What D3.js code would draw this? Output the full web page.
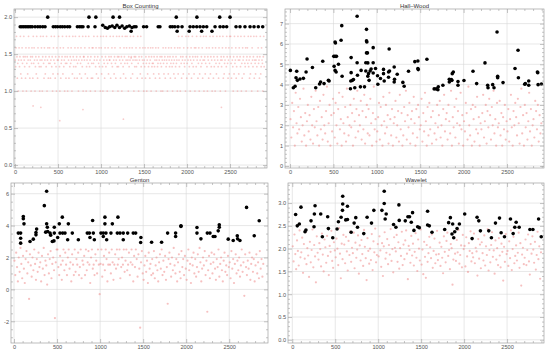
<!DOCTYPE html>
<html><head><meta charset="utf-8">
<script src="https://cdn.jsdelivr.net/npm/d3@7"></script>
<style>html,body{margin:0;padding:0;background:#fff;} svg{display:block;}</style>
</head><body><svg id="c" width="550" height="351"></svg>
<script>
// ---------------- DATA ----------------
const xTickValues = [0, 500, 1000, 1500, 2000, 2500];
const titles = ["Box Counting", "Hall\u2013Wood", "Genton", "Wavelet"];

// Box Counting: outliers (black)
const bcBlackX = [60,80,100,120,140,160,180,200,233,264,291,322,349,445,470,495,525,550,578,610,635,725,750,770,790,850,930,
  1020,1050,1075,1100,1130,1160,1185,1215,1245,1275,1300,1330,1360,1385,1407,1495,1530,1665,1685,1805,1830,1858,1895,1942,2035,2073,2113,2151,2190,2229,2326,2384,2422,2461,2570,2616,2674,2733,2779,2829,2880,
  380,860,940,1140,1215,1875,2115,2380,2500,
  1350,1885,2025,2170,2290];
const bcBlackY = [1.87,1.87,1.87,1.87,1.87,1.87,1.87,1.87,1.87,1.87,1.87,1.87,1.87,1.87,1.87,1.87,1.87,1.87,1.87,1.87,1.87,1.87,1.87,1.87,1.87,1.87,1.87,
  1.89,1.86,1.85,1.87,1.88,1.86,1.89,1.86,1.88,1.85,1.87,1.88,1.86,1.87,1.87,1.87,1.87,1.87,1.87,1.87,1.87,1.87,1.87,1.87,1.87,1.87,1.87,1.87,1.87,1.87,1.87,1.87,1.87,1.87,1.87,1.87,1.87,1.87,1.87,1.87,1.87,
  2.0,2.0,2.0,2.0,2.0,2.0,2.0,2.0,2.0,
  1.81,1.81,1.81,1.81,1.81];
// Box Counting: regular values (pink) take discrete levels; one level index per sampled point (every 5th index)
const bcLevels = [1.741, 1.585, 1.464, 1.42, 1.375, 1.33, 1.232, 1.174, 1.0];
const bcPinkLevel = [
3,5,1,0,2,7,4,8,3,1,5,2,0,6,3,7,1,4,8,2,
0,3,5,2,7,1,8,4,2,6,3,0,1,5,7,3,2,8,4,1,
2,7,0,4,1,3,8,5,2,6,0,3,7,1,4,2,5,8,3,0,
5,1,3,8,2,0,4,7,1,3,6,2,5,0,8,3,1,7,4,2,
1,4,7,3,0,5,2,8,6,1,3,0,4,7,2,5,8,1,3,6,
3,0,2,5,8,1,7,4,3,2,0,6,1,5,3,8,2,4,7,0,
4,2,8,1,3,7,0,5,2,4,1,3,8,6,0,2,5,3,7,1,
0,5,3,2,7,4,1,8,3,0,6,2,4,1,7,3,5,0,8,2,
2,3,1,6,0,8,5,3,7,2,4,0,1,5,3,8,2,7,4,1,
7,1,4,0,3,2,8,5,1,6,3,0,2,7,4,1,5,3,8,0,
1,6,2,5,8,0,3,4,7,1,2,5,0,3,8,4,1,6,2,3,
3,0,7,2,4,1,5,8,0,3,6,2,1,4,7,3,0,5,2,8,
5,2,0,3,1,7,4,2,8,0,3,5,6,1,2,4,0,7,3,1,
0,4,3,8,2,5,1,3,0,7,2,4,1,6,3,0,8,2,5,3,
2,1,5,3,7,0,4,8,2,3,1,6,0,5,2,7,3,1,4,8,
3,5,1,7,2,4,8,3,6,1,5,2,4,7,3,1,8,2,5,4,
1,4,6,2,5,3,7,1,8,3,2,5,4,1,6,3,7,2,4,8,
5,2,3,8,1,4,6,3,2,7,1,5,3,4,8,2,6,1,3,5,
2,7,4,1,3,5,8,2,4,6,3,1,7,5,2,4,3,8,1,6,
0,3,5,1,8,2,4,7,0,3,2,6,1,4,5,3,8,0,2,7,
4,1,3,0,6,5,2,8,3,1,7,4,0,2,5,3,6,1,8,2,
1,5,0,3,2,7,4,1,8,6,3,0,5,2,4,1,7,3,0,8,
3,2,6,4,0,1,5,8,2,3,7,1,4,0,6,2,5,3,8,1,
0,7,2,5,3,8,1,4,6,0,2,3,5,7,1,4,0,8,3,2,
5,3,1,0,7,2,6,4,3,8,1,5,0,2,4,7,3,1,6,0,
2,0,4,7,1,3,5,8,2,6,0,4,3,1,7,5,2,8,0,3,
6,1,3,2,5,0,8,4,7,1,3,2,6,0,4,5,1,8,3,2,
1,4,0,5,3,7,2,6,0,4,8,1,3,5,2,0,7,3,4,6,
3,0,5,2,8,1,4,3,7,2,0,6,5,1,3,4,8,2,0,5];
const bcPinkExtraX = [210, 300, 520, 790, 1350, 1260, 2400];
const bcPinkExtraY = [0.80, 0.78, 0.60, 0.75, 1.45, 0.62, 0.78];

// Hall–Wood
const hwBlackX = [4,38,58,69,77,85,115,154,185,196,258,296,340,352,377,392,442,450,504,519,535,519,523,508,519,531,558,588,596,600,704,704,700,719,696,731,746,773,773,777,811,819,858,873,873,881,881,885,881,892,896,896,904,911,923,934,958,958,958,985,1008,1012,1042,1077,1077,1085,1135,1135,1142,1146,1200,1204,1200,1235,1300,1315,1365,1438,1473,1473,1477,1577,1661,1685,1704,1708,1761,1835,1835,1858,1869,1881,1865,1935,1935,2004,2108,2150,2246,2277,2281,2335,2350,2385,2392,2392,2454,2592,2627,2631,2704,2711,2750,2750,2850,2854,2858,2896];
const hwBlackY = [4.70,3.85,3.92,4.34,4.66,4.21,4.28,4.31,4.62,5.26,4.84,3.85,4.03,4.13,5.15,4.05,4.21,4.18,5.39,5.39,5.39,6.10,6.05,4.90,4.70,4.62,5.00,6.18,6.90,4.41,5.33,4.59,4.18,4.21,3.80,4.25,3.85,7.36,5.08,4.46,3.89,4.70,3.89,4.67,5.08,6.72,6.15,6.10,5.56,5.56,5.07,4.41,4.54,4.21,4.67,4.77,5.08,5.82,4.57,4.79,4.44,4.02,4.30,4.75,4.54,4.18,4.62,4.36,5.75,4.67,4.87,4.26,4.13,4.51,4.11,3.92,4.66,5.13,5.16,4.79,4.74,5.25,3.79,3.79,3.75,3.89,3.97,4.26,4.13,4.25,4.54,4.62,4.21,4.15,3.97,4.20,4.66,4.05,5.07,3.97,3.85,4.00,3.85,6.59,4.34,4.41,4.10,4.79,5.69,4.34,4.02,4.05,4.18,3.97,4.62,4.59,4.00,4.03];
// pink: one value per 10 indices
const hwPinkY = [
2.3,1.4,3.1,1.9,2.7,1.0,3.6,2.1,1.6,2.9, 1.8,3.3,2.4,1.2,2.0,3.8,1.5,2.6,1.0,2.2,
3.0,1.7,2.5,1.3,3.4,2.0,1.1,2.8,1.9,3.7, 2.2,1.5,2.9,1.0,3.2,1.8,2.4,1.3,3.5,2.0,
1.6,2.7,3.9,1.2,2.1,3.0,1.0,2.5,1.7,3.3, 2.6,1.4,3.1,2.0,1.1,2.8,3.6,1.8,2.3,1.0,
3.4,2.1,1.6,2.9,1.2,3.8,2.4,1.5,2.0,3.0, 1.9,2.6,1.0,3.3,2.2,1.4,2.8,3.7,1.7,2.5,
2.0,3.2,1.3,2.7,1.8,3.5,1.1,2.4,3.0,1.6, 2.8,1.5,3.3,2.1,1.0,2.6,3.9,1.8,2.3,1.2,
1.7,2.4,3.1,1.3,2.9,2.0,1.0,3.4,2.2,1.6, 3.0,1.9,2.5,1.1,3.6,2.3,1.5,2.8,1.0,2.1,
2.4,3.2,1.4,2.0,2.7,1.2,3.5,1.8,2.6,1.0, 1.5,2.9,2.2,3.7,1.3,2.5,1.9,3.1,1.1,2.3,
2.7,1.6,3.4,2.1,1.0,2.8,1.4,3.0,2.4,1.8, 2.0,3.3,1.2,2.6,1.7,3.6,2.2,1.0,2.9,1.5,
3.1,1.8,2.4,1.1,2.7,3.8,1.6,2.1,1.3,3.0, 1.9,2.5,3.2,1.4,2.0,1.0,2.8,3.5,1.7,2.3,
2.6,1.3,3.0,2.2,1.6,3.7,1.0,2.4,1.9,2.9, 1.4,3.3,2.1,2.7,1.1,2.0,3.6,1.8,2.5,1.0,
2.2,1.7,3.1,2.6,1.3,3.9,2.0,1.5,2.8,1.0, 3.0,2.3,1.2,2.9,1.8,3.4,1.6,2.4,1.0,2.1,
1.8,2.6,3.5,1.4,2.2,3.0,1.1,2.7,1.9,3.3, 2.5,1.3,2.9,2.0,3.7,1.6,2.3,1.0,3.1,1.9,
2.1,3.2,1.5,2.6,1.0,2.4,1.8,3.0,1.3,2.2, 1.7,2.8,1.2,2.3,3.5,1.9,1.0,2.7,2.0,3.1,
2.4,1.5,3.3,2.1,1.1,2.9,3.8,1.6,2.5,1.0, 3.0,1.9,2.6,1.3,2.2,3.6,1.7,2.8,1.0,2.0,
2.3,1.4,3.2,2.7,1.8,3.0,1.2,2.5,1.6,2.1];

// Genton
const gtBlackX = [50,77,77,77,108,108,116,186,224,255,255,263,352,379,368,379,387,391,418,426,445,464,468,468,507,526,534,561,565,592,623,631,677,747,851,875,882,913,921,933,1010,1037,1037,1056,1056,1068,1076,1126,1142,1207,1200,1231,1269,1269,1320,1385,1413,1474,1471,1598,1714,1784,1877,1877,1939,1939,2125,2125,2171,2245,2276,2314,2334,2372,2384,2384,2488,2546,2593,2597,2624,2701,2790,2848];
const gtBlackY = [3.53,3.53,3.21,2.90,4.57,4.43,4.11,3.00,3.15,3.42,3.57,3.78,5.25,6.15,3.59,4.11,3.90,3.63,3.53,3.40,3.00,3.04,3.90,3.53,3.25,4.11,3.53,4.53,3.53,3.53,3.11,4.11,3.53,3.11,3.53,3.53,3.25,4.32,3.53,3.11,3.53,3.53,3.32,4.53,4.11,3.53,3.11,3.53,4.11,4.53,3.53,3.53,3.53,3.11,3.53,3.53,3.53,3.25,2.94,2.96,2.96,3.53,3.53,3.32,3.95,3.99,3.88,3.53,3.17,3.53,3.53,3.32,3.32,3.67,4.05,3.90,3.15,3.07,3.36,3.17,3.07,5.14,3.36,4.30];
const gtPinkY = [
1.8,0.9,2.3,1.4,0.5,2.0,1.1,2.6,1.6,0.7, 2.1,1.3,0.4,1.9,2.4,1.0,1.7,-0.6,2.2,1.5,
0.8,2.0,1.2,2.5,1.6,0.6,1.9,1.1,2.3,1.4, 1.7,0.5,2.1,1.3,2.6,0.9,1.8,1.5,0.3,2.2,
1.0,1.9,2.4,0.7,1.6,2.0,1.2,-1.8,1.7,2.5, 2.5,1.4,0.9,2.1,1.55,0.6,1.8,2.5,1.2,2.3,
1.55,0.9,2.0,2.5,1.3,1.7,0.5,2.2,1.55,0.9, 2.5,1.1,1.9,1.55,2.3,0.9,1.4,2.5,0.7,1.8,
1.55,2.1,0.9,2.5,1.2,1.7,2.4,1.55,0.4,2.0, 2.5,1.3,1.55,0.9,2.2,1.8,1.0,2.5,1.55,-0.3,
1.6,2.5,0.8,1.55,2.1,1.2,2.5,1.9,0.5,1.55, 2.3,1.55,1.0,2.5,1.7,0.6,1.55,2.2,1.3,2.5,
1.55,1.9,2.5,0.7,1.4,2.0,1.55,2.5,1.1,1.8, 2.5,1.2,1.55,2.3,0.9,1.7,2.5,1.55,0.5,2.1,
1.4,2.5,1.9,0.8,2.2,1.3,-2.4,1.7,2.4,1.0, 0.6,1.5,2.1,1.1,1.8,0.4,2.3,1.3,1.6,0.9,
1.9,1.0,2.4,0.7,1.5,2.0,1.2,0.5,1.7,2.2, 1.3,2.5,0.9,1.8,1.1,2.1,0.6,1.4,-0.9,1.9,
2.3,1.6,0.8,2.0,1.2,2.6,1.5,1.0,1.9,0.5, 1.7,2.2,1.1,0.7,2.4,1.4,1.9,0.9,2.1,1.3,
0.6,1.8,2.5,1.2,1.6,0.4,2.0,1.5,2.3,1.0, 1.9,0.8,1.4,2.2,1.1,2.6,1.7,0.5,1.3,2.0,
1.5,2.4,0.9,1.8,-1.4,1.2,2.1,0.7,1.6,2.3, 1.0,1.7,2.2,1.3,0.6,1.9,1.4,2.5,0.8,1.6,
2.0,1.2,0.5,1.8,2.3,1.1,1.5,0.9,2.1,1.4, 1.7,0.7,2.4,1.3,1.9,0.4,1.6,2.2,1.0,1.8,
1.2,2.0,0.8,1.5,2.5,1.1,1.7,-0.4,2.2,1.4, 0.9,1.8,1.3,2.3,0.6,1.6,2.0,1.1,1.9,0.5,
1.5,2.2,1.0,1.7,0.7,2.4,1.3,1.9,0.8,1.6];

// Wavelet
const wvBlackX = [39,58,82,101,148,159,218,253,257,265,331,350,412,420,471,521,537,568,584,587,587,622,642,642,685,720,739,759,832,871,922,949,1043,1070,1070,1081,1093,1179,1206,1241,1245,1315,1346,1365,1385,1400,1416,1459,1478,1575,1575,1595,1626,1774,1820,1840,1859,1867,1879,1891,1918,1945,2007,2093,2151,2171,2190,2287,2318,2365,2412,2431,2470,2540,2571,2590,2606,2641,2766,2801,2867,2898];
const wvBlackY = [2.75,2.50,2.54,2.91,2.37,2.41,2.61,2.48,2.76,2.94,2.76,2.26,2.70,2.44,2.24,2.43,2.59,2.69,2.84,2.98,3.15,2.63,2.64,2.93,2.36,2.56,2.68,2.47,2.33,2.69,2.56,2.84,2.84,3.26,2.99,2.65,2.76,2.53,2.47,2.96,2.62,2.61,2.70,2.70,2.58,2.79,2.40,2.48,2.46,2.82,2.52,2.50,2.36,2.42,2.57,2.68,2.32,2.54,2.24,2.37,2.44,2.54,2.76,2.22,2.69,2.61,2.39,2.39,2.24,2.56,2.67,2.35,2.26,2.65,2.33,2.47,2.58,2.47,2.42,2.42,2.65,2.26];
const wvPinkY = [
2.05,1.72,2.31,1.88,1.55,2.18,1.95,1.63,2.40,1.81, 1.92,2.24,1.47,2.10,1.78,2.36,1.66,2.01,1.85,1.38,
2.15,1.70,1.97,2.42,1.59,2.08,1.83,1.26,2.27,1.91, 1.76,2.12,1.99,1.61,2.33,1.87,1.50,2.20,2.03,1.69,
2.28,1.84,1.42,2.06,1.93,2.39,1.73,1.58,2.14,1.96, 1.81,2.22,2.00,1.64,2.45,1.89,1.35,2.11,1.77,2.30,
2.09,1.68,2.26,1.94,1.52,2.17,1.86,2.38,1.71,2.02, 1.90,2.35,1.57,2.13,1.80,1.98,2.29,1.45,2.07,1.74,
2.19,1.88,1.62,2.41,2.04,1.79,1.31,2.23,1.95,1.67, 2.00,1.75,2.32,1.53,2.16,1.92,2.44,1.70,1.86,2.10,
1.83,2.27,1.96,1.60,2.12,1.40,2.05,2.36,1.78,1.91, 2.21,1.66,2.08,1.87,2.43,1.73,1.99,1.48,2.25,2.02,
1.94,2.30,1.71,2.14,1.56,2.01,1.84,2.37,1.64,2.09, 1.77,2.18,2.40,1.89,1.33,2.06,1.97,1.69,2.28,1.85,
2.11,1.63,1.93,2.34,1.80,1.51,2.20,2.00,1.74,2.42, 1.65,1.98,1.44,2.15,1.82,1.36,2.08,1.71,1.90,2.26,
2.03,1.79,2.31,1.58,1.95,2.22,1.68,1.87,2.39,1.75, 1.88,2.13,1.62,2.04,1.80,1.46,2.27,1.93,1.70,2.17,
2.35,1.84,1.97,1.55,2.10,2.01,1.21,1.76,2.24,1.89, 1.73,2.19,1.92,2.41,1.67,1.86,2.07,1.59,2.30,1.99,
2.06,1.61,2.25,1.83,1.49,2.12,1.95,2.38,1.72,1.90, 1.81,2.33,1.68,2.02,1.94,1.41,2.21,1.78,2.09,1.57,
2.14,1.90,1.74,2.29,1.63,2.05,1.86,2.43,1.52,1.97, 1.70,2.08,2.36,1.82,1.96,1.45,2.18,1.76,2.01,1.64,
2.23,1.85,1.59,2.11,1.93,1.30,2.04,1.71,2.32,1.88, 1.95,1.62,2.16,1.79,2.40,1.53,1.99,2.26,1.68,1.84,
2.07,1.74,1.91,2.35,1.58,2.12,1.19,1.87,2.02,1.66, 1.80,2.20,1.64,1.97,2.31,1.72,1.43,2.10,1.89,2.27,
1.98,1.69,2.15,1.54,1.86,2.37,1.77,2.05,1.34,1.92];

// y tick values per panel
const bcYTicks = [0, 0.5, 1.0, 1.5, 2.0];
const hwYTicks = [0, 1, 2, 3, 4, 5, 6, 7];
const gtYTicks = [-2, 0, 2, 4, 6];
const wvYTicks = [0, 0.5, 1.0, 1.5, 2.0, 2.5, 3.0];

// ---------------- BUILD ----------------
function pinkFrom(values, stride, offset) {
  return values.map((v, i) => ({x: offset + i * stride, y: v}));
}
const bcPink = bcPinkLevel.map((k, i) => ({x: 2 + i * 5, y: bcLevels[k]}))
  .concat(bcPinkExtraX.map((x, i) => ({x, y: bcPinkExtraY[i]})));

const panels = [
  {title: titles[0], l: 14, r: 267, t: 9, b: 168, xd: [-12, 2930], yd: [-0.04, 2.11],
   yTicks: bcYTicks, yMinorStep: 0.1, fmt: d3.format(".1f"), pr: 0.9, po: 0.45,
   black: bcBlackX.map((x, i) => ({x, y: bcBlackY[i]})), pink: bcPink},
  {title: titles[1], l: 285, r: 544, t: 9, b: 168, xd: [-58, 2926], yd: [-0.1, 7.72],
   yTicks: hwYTicks, yMinorStep: 0.2, fmt: d => String(d), pr: 1.1, po: 0.55,
   black: hwBlackX.map((x, i) => ({x, y: hwBlackY[i]})), pink: pinkFrom(hwPinkY, 10, 5)},
  {title: titles[2], l: 11, r: 268, t: 183, b: 343, xd: [-35, 2950], yd: [-3.36, 6.67],
   yTicks: gtYTicks, yMinorStep: 0.5, fmt: d => String(d), pr: 1.1, po: 0.55,
   black: gtBlackX.map((x, i) => ({x, y: gtBlackY[i]})), pink: pinkFrom(gtPinkY, 10, 5)},
  {title: titles[3], l: 288, r: 544, t: 183, b: 343, xd: [-50, 2930], yd: [-0.07, 3.44],
   yTicks: wvYTicks, yMinorStep: 0.1, fmt: d3.format(".1f"), pr: 1.1, po: 0.55,
   black: wvBlackX.map((x, i) => ({x, y: wvBlackY[i]})), pink: pinkFrom(wvPinkY, 10, 5)}
];

const svg = d3.select("#c");
const FONT = "'Liberation Sans', Arial, sans-serif";
const frameColor = "#a0a0a0";
const gridColor = "#d6d6d6";

function styleAxis(g) {
  g.select(".domain").remove();
  g.selectAll("line").attr("stroke", frameColor).attr("stroke-width", 0.6);
  g.selectAll("text").attr("font-size", 5.6).attr("font-family", FONT).attr("fill", "#555");
}

panels.forEach(p => {
  const x = d3.scaleLinear().domain(p.xd).range([p.l, p.r]);
  const y = d3.scaleLinear().domain(p.yd).range([p.b, p.t]);
  const g = svg.append("g");

  // grid
  g.append("g").selectAll("line").data(xTickValues).join("line")
    .attr("x1", d => x(d)).attr("x2", d => x(d)).attr("y1", p.t).attr("y2", p.b)
    .attr("stroke", gridColor).attr("stroke-width", 0.6);
  g.append("g").selectAll("line").data(p.yTicks).join("line")
    .attr("y1", d => y(d)).attr("y2", d => y(d)).attr("x1", p.l).attr("x2", p.r)
    .attr("stroke", gridColor).attr("stroke-width", 0.6);

  // pink regular points
  g.append("g").selectAll("circle").data(p.pink).join("circle")
    .attr("cx", d => x(d.x)).attr("cy", d => y(d.y)).attr("r", p.pr)
    .attr("fill", "#ef8c8c").attr("fill-opacity", p.po);

  // black outliers
  g.append("g").selectAll("circle").data(p.black).join("circle")
    .attr("cx", d => x(d.x)).attr("cy", d => y(d.y)).attr("r", 1.8)
    .attr("fill", "#000");

  // axes (ticks inward on all four sides)
  const xMinor = d3.range(0, p.xd[1], 100).filter(v => v % 500 !== 0);
  const y0 = Math.ceil(p.yd[0] / p.yMinorStep) * p.yMinorStep;
  const yMinor = d3.range(y0, p.yd[1], p.yMinorStep).map(v => +v.toFixed(3))
    .filter(v => !p.yTicks.some(t => Math.abs(t - v) < 1e-6));

  const bottom = g.append("g").attr("transform", `translate(0,${p.b})`)
    .call(d3.axisBottom(x).tickValues(xTickValues).tickSize(-4).tickPadding(2).tickFormat(d => String(d)));
  styleAxis(bottom);
  const bottomMinor = g.append("g").attr("transform", `translate(0,${p.b})`)
    .call(d3.axisBottom(x).tickValues(xMinor).tickSize(-2).tickFormat(""));
  styleAxis(bottomMinor);
  const top = g.append("g").attr("transform", `translate(0,${p.t})`)
    .call(d3.axisTop(x).tickValues(xTickValues).tickSize(-4).tickFormat(""));
  styleAxis(top);
  const topMinor = g.append("g").attr("transform", `translate(0,${p.t})`)
    .call(d3.axisTop(x).tickValues(xMinor).tickSize(-2).tickFormat(""));
  styleAxis(topMinor);

  const left = g.append("g").attr("transform", `translate(${p.l},0)`)
    .call(d3.axisLeft(y).tickValues(p.yTicks).tickSize(-4).tickPadding(2).tickFormat(p.fmt));
  styleAxis(left);
  const leftMinor = g.append("g").attr("transform", `translate(${p.l},0)`)
    .call(d3.axisLeft(y).tickValues(yMinor).tickSize(-2).tickFormat(""));
  styleAxis(leftMinor);
  const right = g.append("g").attr("transform", `translate(${p.r},0)`)
    .call(d3.axisRight(y).tickValues(p.yTicks).tickSize(-4).tickFormat(""));
  styleAxis(right);
  const rightMinor = g.append("g").attr("transform", `translate(${p.r},0)`)
    .call(d3.axisRight(y).tickValues(yMinor).tickSize(-2).tickFormat(""));
  styleAxis(rightMinor);

  // frame
  g.append("rect").attr("x", p.l).attr("y", p.t).attr("width", p.r - p.l).attr("height", p.b - p.t)
    .attr("fill", "none").attr("stroke", frameColor).attr("stroke-width", 0.7);

  // title
  g.append("text").attr("x", (p.l + p.r) / 2).attr("y", p.t - 1.5)
    .attr("text-anchor", "middle").attr("font-family", FONT).attr("font-size", 6)
    .attr("fill", "#333").text(p.title);
});
</script>
</body></html>
